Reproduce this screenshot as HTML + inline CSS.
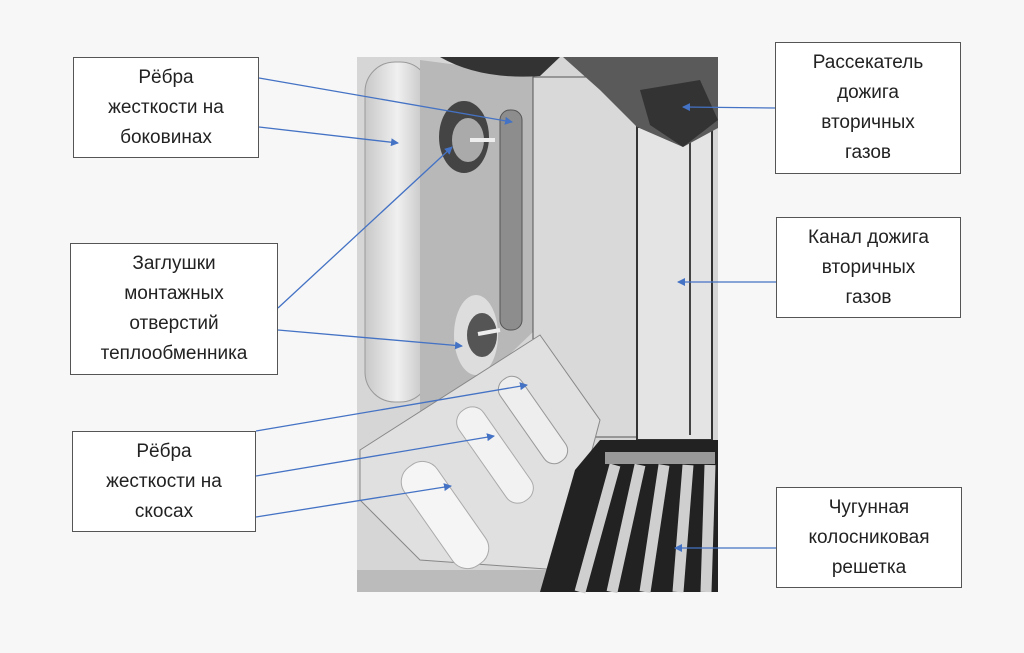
<!DOCTYPE html>
<html><head><meta charset="utf-8"><style>
body{margin:0;background:#f7f7f7;width:1024px;height:653px;overflow:hidden;position:relative;font-family:"Liberation Sans","DejaVu Sans",sans-serif}
.b{position:absolute;background:#fff;border:1.5px solid #555;box-sizing:border-box;display:flex;align-items:center;justify-content:center;text-align:center;font-size:19px;line-height:30px;color:#222}
svg{position:absolute;left:0;top:0}
</style></head><body>
<svg width="1024" height="653">
<defs>
<marker id="a" markerWidth="8" markerHeight="8" refX="7" refY="4" orient="auto" markerUnits="userSpaceOnUse"><path d="M0,0 L8,4 L0,8z" fill="#4472c4"/></marker>
<linearGradient id="g1" x1="0" x2="1"><stop offset="0" stop-color="#c8c8c8"/><stop offset=".5" stop-color="#f0f0f0"/><stop offset="1" stop-color="#bdbdbd"/></linearGradient>
</defs>
<rect x="357" y="57" width="361" height="535" fill="#d6d6d6"/>
<!-- left rib -->
<rect x="365" y="62" width="65" height="340" rx="30" fill="url(#g1)" stroke="#999"/>
<!-- side plate -->
<polygon points="420,60 535,75 535,330 420,440" fill="#b8b8b8"/>
<path d="M440,57 Q480,80 540,76 L560,57z" fill="#333"/>
<!-- slot -->
<rect x="500" y="110" width="22" height="220" rx="10" fill="#8d8d8d" stroke="#555"/>
<!-- plugs -->
<ellipse cx="464" cy="137" rx="25" ry="36" fill="#444"/>
<ellipse cx="468" cy="140" rx="16" ry="22" fill="#aaa"/>
<ellipse cx="476" cy="335" rx="22" ry="40" fill="#ddd"/>
<ellipse cx="482" cy="335" rx="15" ry="22" fill="#555"/>
<line x1="470" y1="140" x2="495" y2="140" stroke="#eee" stroke-width="4"/>
<line x1="478" y1="334" x2="500" y2="330" stroke="#eee" stroke-width="4"/>
<!-- back wall -->
<rect x="533" y="77" width="104" height="360" fill="#d9d9d9" stroke="#555"/>
<!-- right column -->
<polygon points="637,127 712,127 712,440 637,440" fill="#e4e4e4" stroke="#333" stroke-width="2"/>
<line x1="690" y1="140" x2="690" y2="435" stroke="#444" stroke-width="2"/>
<!-- top right dark corner -->
<polygon points="563,57 718,57 718,128 683,147 637,127 600,90" fill="#5a5a5a"/>
<polygon points="640,90 700,80 718,120 683,147 650,125" fill="#333"/>
<!-- sloped bottom plate -->
<polygon points="360,450 540,335 600,420 560,570 420,560 360,500" fill="#e0e0e0" stroke="#888"/>
<rect x="480" y="400" width="30" height="110" rx="14" transform="rotate(-35 495 455)" fill="#f2f2f2" stroke="#aaa"/>
<rect x="520" y="370" width="26" height="100" rx="12" transform="rotate(-35 533 420)" fill="#eee" stroke="#999"/>
<rect x="425" y="455" width="40" height="120" rx="18" transform="rotate(-35 445 515)" fill="#f5f5f5" stroke="#aaa"/>
<!-- bottom floor -->
<polygon points="357,570 560,570 560,592 357,592" fill="#bbb"/>
<!-- grate -->
<polygon points="600,440 718,440 718,592 540,592 575,470" fill="#222"/>
<g stroke="#cfcfcf" stroke-width="11">
<line x1="615" y1="465" x2="580" y2="592"/><line x1="640" y1="465" x2="612" y2="592"/>
<line x1="664" y1="465" x2="645" y2="592"/><line x1="688" y1="465" x2="678" y2="592"/><line x1="710" y1="465" x2="706" y2="592"/>
</g>
<rect x="605" y="452" width="110" height="12" fill="#999"/>
<g stroke="#4472c4" stroke-width="1.3" marker-end="url(#a)">
<line x1="259" y1="78" x2="512" y2="122"/>
<line x1="259" y1="127" x2="398" y2="143"/>
<line x1="278" y1="308" x2="452" y2="147"/>
<line x1="278" y1="330" x2="462" y2="346"/>
<line x1="256" y1="431" x2="527" y2="385"/>
<line x1="256" y1="476" x2="494" y2="436"/>
<line x1="256" y1="517" x2="451" y2="486"/>
<line x1="775" y1="108" x2="683" y2="107"/>
<line x1="776" y1="282" x2="678" y2="282"/>
<line x1="776" y1="548" x2="675" y2="548"/>
</g>
</svg>
<div class="b" style="left:73px;top:57px;width:186px;height:101px">Рёбра<br>жесткости на<br>боковинах</div>
<div class="b" style="left:70px;top:243px;width:208px;height:132px">Заглушки<br>монтажных<br>отверстий<br>теплообменника</div>
<div class="b" style="left:72px;top:431px;width:184px;height:101px">Рёбра<br>жесткости на<br>скосах</div>
<div class="b" style="left:775px;top:42px;width:186px;height:132px">Рассекатель<br>дожига<br>вторичных<br>газов</div>
<div class="b" style="left:776px;top:217px;width:185px;height:101px">Канал дожига<br>вторичных<br>газов</div>
<div class="b" style="left:776px;top:487px;width:186px;height:101px">Чугунная<br>колосниковая<br>решетка</div>
</body></html>
